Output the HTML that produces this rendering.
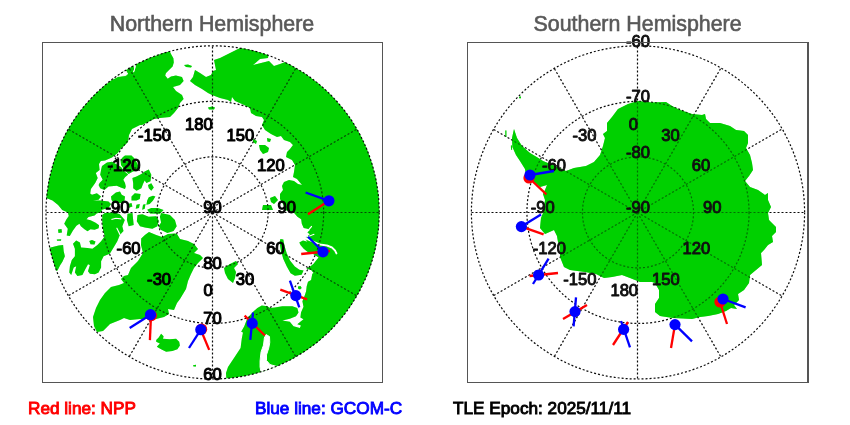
<!DOCTYPE html>
<html><head><meta charset="utf-8"><title>Satellite crossings</title>
<style>
html,body{margin:0;padding:0;background:#fff;}
body{width:850px;height:425px;overflow:hidden;font-family:"Liberation Sans",sans-serif;}
svg{display:block;}
.g{fill:none;stroke:#0a0a0a;stroke-width:1.2;stroke-dasharray:2 2;}
.l{font:16.6px "Liberation Sans",sans-serif;fill:#000;stroke:#000;stroke-width:1.1;stroke-linejoin:round;}
.ls{fill:#101010;stroke:#101010;stroke-width:.95;}
.t{font:21.4px "Liberation Sans",sans-serif;fill:#595959;stroke:#595959;stroke-width:.6;}
.f{font:17.2px "Liberation Sans",sans-serif;stroke-width:.9;}
.r{stroke:#ff0000;stroke-width:2.3;}
.b{stroke:#0000ff;stroke-width:2.3;}
.fr{fill:none;stroke:#555;stroke-width:1;}
</style></head><body>
<svg width="850" height="425" viewBox="0 0 850 425">
<rect width="850" height="425" fill="#fff"/>
<text class="t" text-anchor="middle" x="212" y="30.5">Northern Hemisphere</text>
<text class="t" text-anchor="middle" x="637.6" y="30.5">Southern Hemisphere</text>
<defs><clipPath id="cn"><circle cx="212.6" cy="212.4" r="166.89"/></clipPath>
<path id="pcn" fill-rule="evenodd" d="M167,45 L171,54 L173.4,58.2 L173.8,62.4 L172.6,66.5 L169.3,69.8 L166,73 L165.2,75.5 L167.7,78.8 L171,76.4 L175.9,75.5 L182,77 L183.6,81 L180,85 L173,87 L176,91 L182,95 L183.6,99 L180,103 L178,108 L174,113 L170,117 L160,118 L154,119 L148,122 L142,125 L140,125 L132,129 L129,135 L128,142 L124,146 L121.4,148 L117.7,153 L112,157.4 L105,160.5 L100.8,161 L99,164 L99.6,170 L95.8,173 L97.7,178 L95.2,183 L90.9,189 L90.2,193.5 L92,194.8 L96.9,193.2 L101,196.5 L98.6,199.8 L93,200.5 L100.2,200.6 L108.5,201.4 L111,203.9 L108.5,208 L101.9,209.7 L101.2,212.1 L96.6,213.6 L94.6,215.6 L88.5,217.1 L86.5,219.2 L90.5,220.2 L95.6,222.7 L99.1,225.2 L98.6,228.3 L94.6,229.8 L90.5,229.3 L87.5,231.3 L84.5,229.3 L80.9,226.3 L79.4,223.7 L76.4,225.7 L72.8,230.8 L69.8,235.9 L66.7,235.4 L67.8,228.8 L64.2,223.7 L66.2,219.7 L68.8,216.1 L67.8,212.6 L62.2,210 L58.1,205 L52.5,200.6 L46.2,198 L36,197 L36,36 L171,36Z M184,65 L188,64.5 L192,66 L191,67.5 L186,67Z M208,107.5 L212,106.5 L215,107.5 L214,109.5 L209,109.5Z M123,157 L125,155.5 L131.5,155.4 L134.5,158.5 L137,163 L139,168 L138,170.5 L133,171.5 L128.5,174 L125,170.5 L121,165 L120.5,160Z M102,166 L107,162.5 L112,161.8 L116,164 L121,167 L124.5,171.5 L128.2,174.5 L125,177.2 L123.3,179.7 L125,183 L125.8,186.6 L125,189 L120.8,187.4 L116.7,185.8 L108.5,186.6 L104.4,189.9 L100.2,188.2 L98.6,185 L99.6,183 L102.7,179.8 L100.2,174.8 L101.2,169.2Z M132.4,178 L136.5,176.4 L141.4,173.9 L144.7,171.4 L148.8,169.4 L151.3,174.7 L150.5,181.3 L146.4,183 L144.7,180.5 L143,184.1 L141.4,188.2 L136.5,190.7 L133.2,188.2 L133.2,183.3Z M148,185 L151.3,183.3 L153.8,187.4 L151.3,190.7 L148.8,188.2Z M111,196.5 L115.9,192.4 L120,191.5 L121.7,194.8 L125,196.5 L124.5,200.6 L121,203 L114,203 L111.5,200Z M131.5,196.5 L134.8,193.2 L140.6,194 L139.8,199 L136.5,200.6 L131.5,200.6Z M148.8,197.3 L153,195.7 L155.4,196.5 L153,200.6 L149.7,203.9 L146.4,204.7 L147.2,200.6Z M128.2,203.9 L131.5,203 L132.4,206.4 L128.2,208Z M136.5,204.7 L139.8,203.9 L139,208 L135.7,208.8Z M143,204.7 L145.5,203.9 L144.7,208.8 L142.2,209.7Z M147.2,209.7 L151.3,208 L157.9,208 L163.6,210 L159.9,213.7 L150,213.5Z M127.5,213.7 L132.5,213 L133.7,225 L128.7,226.2 L126.9,220Z M137.5,215 L142.4,214.3 L148.7,216.8 L156.2,216.2 L158.7,220.5 L157.4,226.2 L152.4,228.7 L144.9,227.4 L140,226.2 L136.8,221.2Z M161.1,213 L169.9,215 L174.9,220 L176.7,226.2 L173.6,231.1 L167.4,233 L161.1,230 L158.7,226.2 L161.1,222.4 L159.9,216.8Z M102.3,215 L104.8,213 L114.8,212.4 L119.8,214.3 L124.8,220 L122.3,226.2 L123.5,231 L119.8,235 L117.3,241.2 L113.6,247.5 L109.8,253.7 L103.6,256.2 L101.1,261.2 L101.1,267.4 L98.6,272.4 L94.9,274.3 L89.9,273.7 L88,271.2 L89.9,265 L88,264.3 L84.9,270 L82.4,275 L77.4,276 L74.9,272.4 L76.2,266.2 L73.7,267.4 L71.2,275 L69.3,272.4 L69.9,266.2 L71.8,260 L74.9,256.2 L74.9,248.7 L73,243.7 L76.2,240.6 L79.9,242.5 L81.1,247.5 L87.4,248 L92.4,248.7 L97.4,245 L101.1,241.2 L104.8,236.2 L103,230 L102.3,222Z M89.3,241 L92,240 L95.5,241.5 L94.5,244.4 L90.5,244.2Z M56.8,239.4 L61.2,239.2 L61,240.8 L57,240.8Z M58,229.5 L61.5,229 L62,232.5 L58.5,233Z M50.6,247.5 L58.7,245.6 L63.1,245 L63.7,251.2 L64.9,256.2 L62.4,261.8 L60,265.5 L57.5,270.5 L50,274 L40,250Z M141.2,238.6 L144.9,234.9 L149,232 L156.2,234.9 L162,237 L168,234 L174.9,233.6 L177,234 L180,239 L188,241 L194,244 L198,249 L194,253 L200,255 L203,258 L198,263 L194,268 L191,274 L188,281 L186,289 L183,294 L180,299 L177,303 L174,310 L168,309 L169,314 L164,317 L156,319 L140,319 L130,320 L124,318 L120,320 L110,324 L103,331 L97,332 L94,326 L93,317 L96,308 L100,300 L105,293 L111,287 L119,285 L124,283 L121,279 L124,276 L128,275 L131,268 L138,261 L143,253 L141,245Z M156.2,339.9 L158.7,337.4 L161.1,333.7 L163.6,336.2 L163,338.7 L169.9,339.3 L176.1,338.7 L179.2,341.8 L179.9,345.5 L177.4,349.3 L172.4,351.1 L166.1,351.7 L161.1,349.3 L156.8,346.8 L159.9,343.6 L156.2,341.8Z M193,365.3 L196,364.8 L196,366.4 L193.5,366.6Z M224,268 L230,264 L236,261 L238,264 L234,268 L236,272 L235,278 L233,283 L228,279 L225,273Z M280.4,239 L283.3,239.6 L284.6,246.2 L286.8,253.4 L290,260.6 L294.8,266.6 L299.4,269.8 L303.6,270.6 L301.6,274.8 L294.9,275.8 L290.6,273.2 L286.8,266.4 L283.2,258.7 L280.8,250 L279.6,242.5Z M259,145 L265,145 L269,148 L268,152 L263,154 L260,150Z M267,138 L271,139 L270,142 L267.4,141.4Z M253,139 L257,141 L256,144 L253,142Z M270,198 L275,196 L278,200 L274,204 L271,202Z M263,205 L271,205 L273,210 L262,210Z M227,390 L226,373 L228,367 L232,361 L236,355 L240.6,348 L241.8,338.6 L243,332.4 L241.2,331.8 L244.3,326.2 L247.4,318 L253.7,311.2 L257.4,308 L261.8,305.6 L267.4,306.2 L269.9,308 L274.9,307.5 L282.3,306.2 L292.3,306.2 L297.3,308 L298.5,312.5 L296,316.2 L289.8,318.7 L282.3,320.5 L289.8,321.8 L293.5,326.2 L299.8,328 L301,325.5 L297.3,324.3 L301,321.2 L303.5,319.3 L300.4,317.4 L301,312.5 L303.5,306.8 L302.4,301.2 L304.9,295 L306.1,291.2 L306.7,286.2 L308,281.8 L311.1,280 L312.3,273.7 L313.6,273 L311.1,269.9 L306.2,268.6 L309.9,266.8 L313.6,263.7 L316.1,260.5 L318.6,257.4 L313.6,254.3 L307.4,251.8 L303.7,248.7 L300.5,245 L299.3,242.5 L303,240.6 L307.4,241.8 L304.3,237.5 L307.4,236.2 L309.9,234.3 L307.4,232.5 L309.9,230 L307.4,228.7 L303.7,228 L301.8,223.7 L301.2,219.3 L297.4,216.8 L293.7,212.5 L285,210 L283,204 L280,199 L280,194 L283,190 L282,186 L284,182 L289,180 L294,181 L298,184 L302,185 L297,179 L293,177 L294,172 L295,165 L292,160 L286,157 L287,152 L290,149 L293,145 L290,142 L284,140 L281,136 L277,137 L271,134 L265,130 L262,125 L264,120 L262,117 L256,116 L251,113 L250,108 L242,104 L235,101 L232,97 L231,102 L228,100 L220,98 L212,95 L208,93 L202,89 L195,85 L190,81 L193,77 L195,70 L200,73 L206,77 L211,75 L213,71 L216,70 L214,60 L220,58 L230,53 L240,48 L244,40 L270,48 L268,58 L260,59 L253,65 L257,64 L269,61 L274,66 L280,64 L284,62.4 L290,50 L392,36 L392,392Z M298,286.5 L300.5,286 L301.7,288 L300,289.5 L298,288.5Z"/>
<g id="wcn"><path d="M106,84 L111.6,79.7 L118.2,76.4 L125.7,75.5 L127.7,73.9 L125.7,70.6 L121,68Z M133.9,65.7 L134.7,69 L133.5,72.2 L135.5,66.5 L135.5,63.6 L133,62Z M266,334.5 L269.5,336.5 L269.8,342.4 L268.8,348 L266.5,355 L266.5,360.5 L270,364.5 L277,366.5 L278,370 L262,376 L260,367 L260,361 L261,352 L263.5,345 L264.3,338Z"/><path fill="none" stroke-width="1.9" stroke-linecap="round" stroke-linejoin="round" d="M304.5,238 L312,241 L320,244.5 L327,245.5 L332,247.5 L335,250.5 L336.5,253.5"/><path fill="none" stroke-width="1.2" stroke-linecap="round" stroke-linejoin="round" d="M304.5,237.3 L309,236.3 L314,234.3"/><path fill="none" stroke-width="1.2" stroke-linecap="round" stroke-linejoin="round" d="M308.5,230 L311.5,226.5"/><path fill="none" stroke-width="1.1" stroke-linecap="round" stroke-linejoin="round" d="M111.8,219.4 L116,218.2 L120.9,218.9"/><path fill="none" stroke-width="1.3" stroke-linecap="round" stroke-linejoin="round" d="M116.9,228.3 L118.5,231.5 L119.9,234.4"/></g>
<mask id="mcn" maskUnits="userSpaceOnUse" x="0" y="0" width="850" height="425"><use href="#pcn" fill="#fff"/><use href="#wcn" fill="#000" stroke="#000"/></mask></defs>
<g clip-path="url(#cn)"><use href="#pcn" fill="#00d000"/><use href="#wcn" fill="#fff" stroke="#fff"/></g>
<circle class="g" cx="212.6" cy="212.4" r="55.53"/>
<circle class="g" cx="212.6" cy="212.4" r="111.06"/>
<circle class="g" cx="212.6" cy="212.4" r="166.59"/>
<line class="g" x1="212.5" y1="212.5" x2="212.50" y2="379.09"/>
<line class="g" x1="212.5" y1="212.5" x2="295.79" y2="356.77"/>
<line class="g" x1="212.5" y1="212.5" x2="356.77" y2="295.80"/>
<line class="g" x1="212.5" y1="212.5" x2="379.09" y2="212.50"/>
<line class="g" x1="212.5" y1="212.5" x2="356.77" y2="129.21"/>
<line class="g" x1="212.5" y1="212.5" x2="295.79" y2="68.23"/>
<line class="g" x1="212.5" y1="212.5" x2="212.50" y2="45.91"/>
<line class="g" x1="212.5" y1="212.5" x2="129.20" y2="68.23"/>
<line class="g" x1="212.5" y1="212.5" x2="68.23" y2="129.20"/>
<line class="g" x1="212.5" y1="212.5" x2="45.91" y2="212.50"/>
<line class="g" x1="212.5" y1="212.5" x2="68.23" y2="295.80"/>
<line class="g" x1="212.5" y1="212.5" x2="129.20" y2="356.77"/>
<circle cx="212.6" cy="212.4" r="165.79" fill="#00d000" opacity="0.3" mask="url(#mcn)"/>
<text class="l" text-anchor="middle" x="212.5" y="213.2">90</text>
<text class="l" text-anchor="middle" x="212.5" y="268.7">80</text>
<text class="l" text-anchor="middle" x="212.5" y="324.3">70</text>
<text class="l" text-anchor="middle" x="212.5" y="379.8">60</text>
<text class="l" text-anchor="end" x="171.1" y="140.7">-150</text>
<text class="l" text-anchor="end" x="140.6" y="171.2">-120</text>
<text class="l" text-anchor="end" x="129.4" y="212.8">-90</text>
<text class="l" text-anchor="end" x="140.6" y="254.4">-60</text>
<text class="l" text-anchor="end" x="171.1" y="284.9">-30</text>
<text class="l" text-anchor="end" x="212.7" y="296.1">0</text>
<text class="l" text-anchor="end" x="254.3" y="284.9">30</text>
<text class="l" text-anchor="end" x="284.8" y="254.4">60</text>
<text class="l" text-anchor="end" x="296.0" y="212.8">90</text>
<text class="l" text-anchor="end" x="284.8" y="171.2">120</text>
<text class="l" text-anchor="end" x="254.3" y="140.7">150</text>
<text class="l" text-anchor="end" x="212.7" y="129.5">180</text>
<defs><clipPath id="cs"><circle cx="638.0" cy="212.4" r="166.89"/></clipPath>
<path id="pcs" fill-rule="evenodd" d="M514,129 L517,138 L522,146 L530,153 L540,159 L543,161 L555,166 L566,171 L574,168 L586,166 L594,162 L600,155 L603,146 L605,138 L603,134 L607,131 L607,123 L612,117 L618,109 L628,104 L638,101 L652,102.5 L666,102 L672,106 L680,110 L692,114 L702,115 L705,114 L706,119 L710,123 L720,123 L730,126 L736,130 L744,131 L748,135 L748,143 L746,148 L750,155 L752,163 L753,170 L749,176 L745,181 L750,187 L758,190 L765,195 L768,193 L768,200 L771,207 L768,213 L769,220 L776,227 L776,232 L772,236 L773,242 L768,245 L764,250 L761,253 L762,265 L756,270 L750,275 L749,283 L744,290 L738,294 L739,300 L734,305 L737,309 L731,308 L726,311 L718,314 L708,316 L700,317 L692,319 L683,318.5 L673,318 L660,316 L655,312 L655,304 L659,298 L659,290 L655,283 L652,282 L640,282 L630,278 L622,275 L612,277 L604,278 L596,274 L585,272 L570,270 L564,267 L560,257 L560,246 L558,242 L557,236 L554,230 L545,234 L540,228 L541,218 L543,213 L545,200 L543,194 L545,190 L547,185 L540,187 L533,181 L526,175 L525,169 L520,161 L516,155 L512.4,147 L512,138Z M505.3,130.4 L506.4,130.6 L506.4,137 L505.4,136.8Z M510.9,145.4 L512,145.6 L512.1,150 L511,149.6Z M519,96.8 L521,96.6 L521,98.2 L519.2,98.2Z"/>
<g id="wcs"></g>
<mask id="mcs" maskUnits="userSpaceOnUse" x="0" y="0" width="850" height="425"><use href="#pcs" fill="#fff"/><use href="#wcs" fill="#000" stroke="#000"/></mask></defs>
<g clip-path="url(#cs)"><use href="#pcs" fill="#00d000"/><use href="#wcs" fill="#fff" stroke="#fff"/></g>
<circle class="g" cx="638.0" cy="212.4" r="55.53"/>
<circle class="g" cx="638.0" cy="212.4" r="111.06"/>
<circle class="g" cx="638.0" cy="212.4" r="166.59"/>
<line class="g" x1="637.5" y1="212.5" x2="637.50" y2="379.09"/>
<line class="g" x1="637.5" y1="212.5" x2="720.79" y2="356.77"/>
<line class="g" x1="637.5" y1="212.5" x2="781.77" y2="295.80"/>
<line class="g" x1="637.5" y1="212.5" x2="804.09" y2="212.50"/>
<line class="g" x1="637.5" y1="212.5" x2="781.77" y2="129.21"/>
<line class="g" x1="637.5" y1="212.5" x2="720.79" y2="68.23"/>
<line class="g" x1="637.5" y1="212.5" x2="637.50" y2="45.91"/>
<line class="g" x1="637.5" y1="212.5" x2="554.20" y2="68.23"/>
<line class="g" x1="637.5" y1="212.5" x2="493.23" y2="129.20"/>
<line class="g" x1="637.5" y1="212.5" x2="470.91" y2="212.50"/>
<line class="g" x1="637.5" y1="212.5" x2="493.23" y2="295.80"/>
<line class="g" x1="637.5" y1="212.5" x2="554.20" y2="356.77"/>
<circle cx="638.0" cy="212.4" r="165.79" fill="#00d000" opacity="0.5" mask="url(#mcs)"/>
<text class="l ls" text-anchor="middle" x="637.9" y="213.2">-90</text>
<text class="l ls" text-anchor="middle" x="637.9" y="157.7">-80</text>
<text class="l ls" text-anchor="middle" x="637.9" y="102.1">-70</text>
<text class="l ls" text-anchor="middle" x="637.9" y="46.6">-60</text>
<text class="l ls" text-anchor="end" x="596.5" y="284.9">-150</text>
<text class="l ls" text-anchor="end" x="566.0" y="254.4">-120</text>
<text class="l ls" text-anchor="end" x="554.8" y="212.8">-90</text>
<text class="l ls" text-anchor="end" x="566.0" y="171.2">-60</text>
<text class="l ls" text-anchor="end" x="596.5" y="140.7">-30</text>
<text class="l ls" text-anchor="end" x="638.1" y="129.5">0</text>
<text class="l ls" text-anchor="end" x="679.7" y="140.7">30</text>
<text class="l ls" text-anchor="end" x="710.2" y="171.2">60</text>
<text class="l ls" text-anchor="end" x="721.4" y="212.8">90</text>
<text class="l ls" text-anchor="end" x="710.2" y="254.4">120</text>
<text class="l ls" text-anchor="end" x="679.7" y="284.9">150</text>
<text class="l ls" text-anchor="end" x="638.1" y="296.1">180</text>
<rect class="fr" x="42.5" y="42.5" width="340" height="340"/>
<rect class="fr" x="467.5" y="42.5" width="340" height="340"/>
<line class="fr" x1="808.5" y1="42" x2="808.5" y2="383"/>
<line class="r" x1="328.9" y1="200.8" x2="308" y2="214.3"/>
<line class="b" x1="328.9" y1="200.8" x2="305.6" y2="192.5"/>
<circle fill="#0000ff" cx="328.9" cy="200.8" r="5.6"/>
<line class="r" x1="301.2" y1="254" x2="330" y2="251"/>
<line class="b" x1="323" y1="251.8" x2="308" y2="236.8"/>
<circle fill="#0000ff" cx="323" cy="251.8" r="5.6"/>
<line class="r" x1="280.3" y1="289.7" x2="307.1" y2="299.3"/>
<line class="b" x1="289.9" y1="280.6" x2="299.3" y2="307.4"/>
<circle fill="#0000ff" cx="295.8" cy="295.6" r="5.6"/>
<line class="r" x1="244.6" y1="315.6" x2="264.9" y2="335.5"/>
<line class="b" x1="253" y1="312.5" x2="250.3" y2="339.9"/>
<circle fill="#0000ff" cx="252.2" cy="323.4" r="5.6"/>
<line class="r" x1="200.8" y1="329.7" x2="209.2" y2="349.9"/>
<circle fill="#ff0000" cx="201.6" cy="329.2" r="5.6"/>
<line class="b" x1="200.8" y1="329.7" x2="189" y2="348"/>
<circle fill="#0000ff" cx="200.8" cy="329.7" r="5.6"/>
<line class="r" x1="151" y1="315.6" x2="149.9" y2="340.1"/>
<circle fill="#ff0000" cx="151.4" cy="315.6" r="5.6"/>
<line class="b" x1="150.5" y1="314.7" x2="129.7" y2="328"/>
<circle fill="#0000ff" cx="150.5" cy="314.7" r="5.6"/>
<line class="r" x1="529" y1="178" x2="546.4" y2="194.4"/>
<circle fill="#ff0000" cx="529" cy="178" r="5.6"/>
<line class="b" x1="530" y1="175" x2="554" y2="171"/>
<circle fill="#0000ff" cx="530" cy="175" r="5.6"/>
<line class="r" x1="521.4" y1="226.6" x2="543.6" y2="234.4"/>
<line class="b" x1="521.4" y1="226.6" x2="541" y2="214.4"/>
<circle fill="#0000ff" cx="521.4" cy="226.6" r="5.6"/>
<line class="r" x1="529.6" y1="276" x2="558" y2="273"/>
<line class="b" x1="533" y1="284" x2="548.6" y2="258.6"/>
<circle fill="#0000ff" cx="538.6" cy="275" r="5.6"/>
<line class="r" x1="563" y1="319" x2="587" y2="305"/>
<line class="b" x1="576" y1="297.4" x2="573.6" y2="326.3"/>
<circle fill="#0000ff" cx="575" cy="311.6" r="5.6"/>
<line class="r" x1="628" y1="322" x2="613" y2="345"/>
<line class="b" x1="621" y1="321" x2="630" y2="347.4"/>
<circle fill="#0000ff" cx="623.6" cy="329.4" r="5.6"/>
<line class="r" x1="675" y1="324.6" x2="671" y2="348"/>
<line class="b" x1="675" y1="324.6" x2="692" y2="341.4"/>
<circle fill="#0000ff" cx="675" cy="324.6" r="5.6"/>
<line class="r" x1="720" y1="302" x2="727" y2="324"/>
<circle fill="#ff0000" cx="720" cy="302" r="5.6"/>
<line class="b" x1="723" y1="299" x2="745.6" y2="307.4"/>
<circle fill="#0000ff" cx="723" cy="299" r="5.6"/>
<text class="f" x="28" y="413.5" fill="#ff0000" stroke="#ff0000">Red line: NPP</text>
<text class="f" x="255" y="413.5" fill="#0000ff" stroke="#0000ff">Blue line: GCOM-C</text>
<text class="f" x="453" y="413.5" fill="#000" stroke="#000">TLE Epoch: 2025/11/11</text>
</svg>
</body></html>
